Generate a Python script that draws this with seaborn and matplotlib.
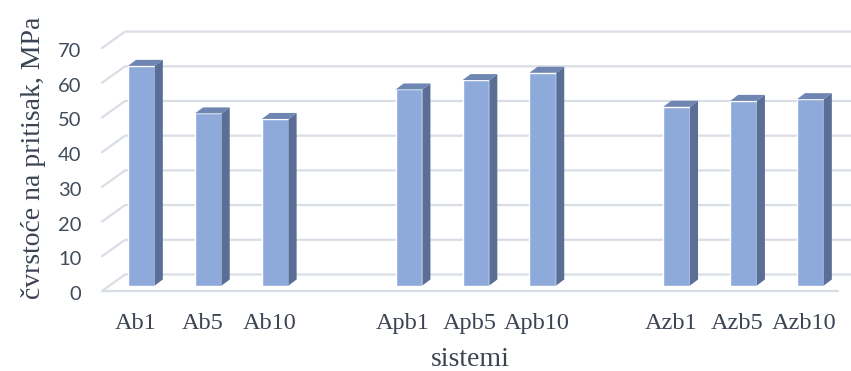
import numpy as np
import pandas as pd
import matplotlib
matplotlib.use('Agg')
import matplotlib.pyplot as plt
import seaborn as sns
from matplotlib.transforms import ScaledTranslation
from matplotlib.patches import Polygon

# 데이터
sistemi = ['Ab1', 'Ab5', 'Ab10', 'Apb1', 'Apb5', 'Apb10', 'Azb1', 'Azb5', 'Azb10']
cvrstoca = [63.3, 49.6, 48.0, 56.5, 59.2, 61.3, 51.5, 53.2, 53.7]
# 그룹 사이 빈 칸
redosled = ['Ab1', 'Ab5', 'Ab10', ' ', 'Apb1', 'Apb5', 'Apb10', '  ', 'Azb1', 'Azb5', 'Azb10']
y_ticks = [0, 10, 20, 30, 40, 50, 60, 70]

df = pd.DataFrame({'sistem': sistemi, 'cvrstoca': cvrstoca})

sns.set_style('white')
plt.rcParams['font.family'] = ['Liberation Serif', 'DejaVu Serif']

W, H = 851, 371
fig = plt.figure(figsize=(W / 100, H / 100), dpi=100)
ax = fig.add_axes([108 / W, (H - 285.5) / H, 735.9 / W, 242.9 / H])
ax.patch.set_visible(False)

sns.barplot(data=df, x='sistem', y='cvrstoca', order=redosled, color='#8eaadb',
            saturation=1, width=0.40, errorbar=None, ax=ax, zorder=3)

ax.set_xlim(-0.5, 10.5)
ax.set_ylim(0, 70)
sns.despine(ax=ax, left=True, bottom=True)

# 3D 느낌의 격자선 (앞쪽 -> 뒤쪽 벽)
grid_c = '#d9dee6'
for v in y_ticks:
    yd = ax.transData.transform((0, v))[1]
    xs = [102 / W, 125 / W, 1.0]
    ys = [(yd - 5.5) / H, (yd + 11) / H, (yd + 11) / H]
    ax.plot(xs, ys, color=grid_c, lw=1.6, transform=fig.transFigure, clip_on=False, zorder=1)
y0 = ax.transData.transform((0, 0))[1]
ax.plot([102 / W, 838 / W], [(y0 - 5.5) / H] * 2, color=grid_c, lw=1.6,
        transform=fig.transFigure, clip_on=False, zorder=1)

# 막대 옆면, 윗면
dx, dy = 8, 6
inv = ax.transData.inverted()
for bar in list(ax.patches):
    x0, w, h = bar.get_x(), bar.get_width(), bar.get_height()
    bl, br, tr, tl = ax.transData.transform([(x0, 0), (x0 + w, 0), (x0 + w, h), (x0, h)])
    off = np.array([dx, dy])
    side = inv.transform([br, br + off, tr + off, tr])
    top = inv.transform([tl, tr, tr + off, tl + off])
    ax.add_patch(Polygon(side, closed=True, fc='#5a6e96', ec='none', zorder=3, clip_on=False))
    ax.add_patch(Polygon(top, closed=True, fc='#6f86b2', ec='none', zorder=3, clip_on=False))

# 눈금
ax.set_yticks(y_ticks)
ax.tick_params(axis='y', length=0, pad=19, labelsize=14.5, labelcolor='#404c5c')
for lab in ax.get_yticklabels():
    lab.set_fontfamily(['Lato', 'DejaVu Sans'])
    lab.set_transform(lab.get_transform() + ScaledTranslation(0, -0.075, fig.dpi_scale_trans))

ax.tick_params(axis='x', length=0, pad=20, labelsize=17.5, labelcolor='#3b4453')
for lab in ax.get_xticklabels():
    lab.set_transform(lab.get_transform() + ScaledTranslation(-0.06, 0, fig.dpi_scale_trans))

ax.set_xlabel('sistemi', fontsize=20, color='#3b4453')
ax.xaxis.set_label_coords((470 - 108) / 735.9, -0.252)
ax.set_ylabel('čvrstoće na pritisak, MPa', fontsize=20, color='#3b4453')
ax.yaxis.set_label_coords(-0.084, 0.527)

plt.savefig('out.png', dpi=100)
